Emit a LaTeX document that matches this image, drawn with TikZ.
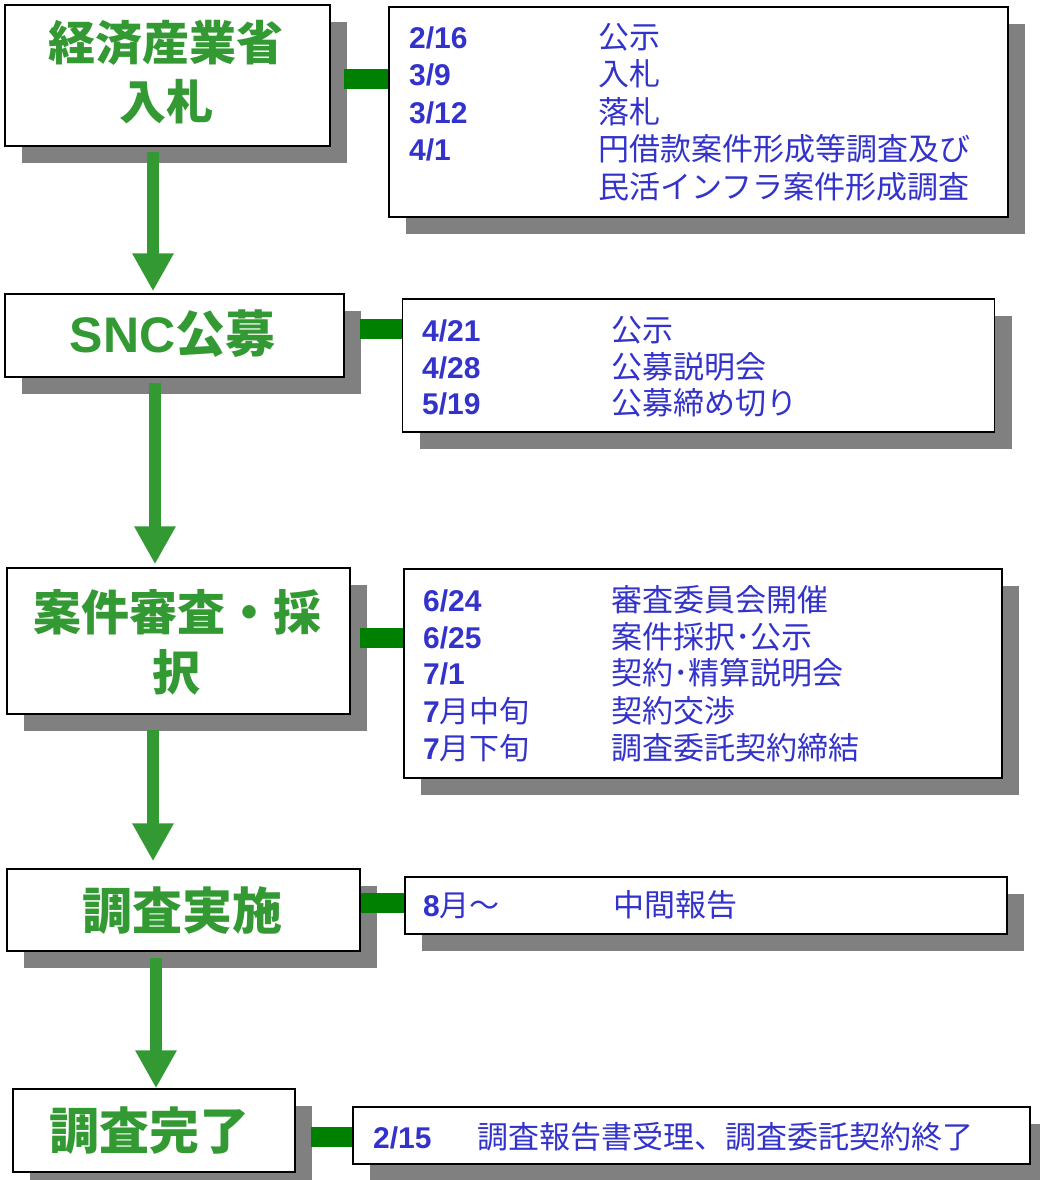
\documentclass[tikz,border=0pt]{standalone}
\usepackage{fontspec}
\setmainfont{Liberation Sans}
\newfontfamily\cjk{Noto Sans CJK JP}
\usetikzlibrary{arrows.meta,shadows,calc}
\definecolor{shadowgray}{RGB}{128,128,128}
\definecolor{conngreen}{RGB}{0,128,0}
\definecolor{flowgreen}{RGB}{51,153,51}
\definecolor{txtblue}{RGB}{51,51,204}
\begin{document}
\begin{tikzpicture}[x=1pt,y=-1pt,
  box/.style={draw=black, line width=1.5pt, fill=white, inner sep=0pt,
    drop shadow={shadow xshift=17pt, shadow yshift=-17pt, fill=shadowgray, opacity=1}},
  conn/.style={draw=conngreen, line width=20pt},
  flow/.style={draw=flowgreen, line width=12.5pt, -{Triangle[width=39pt,length=38pt]}},
  title/.style={text=flowgreen, inner sep=0pt, anchor=base},
  dt/.style={text=txtblue, inner sep=0pt, anchor=base west, font=\fontsize{30}{36}\selectfont\bfseries},
  ev/.style={text=txtblue, inner sep=0pt, anchor=base west, font=\fontsize{31}{37}\selectfont\cjk},
]
\fill[white] (0,0) rectangle (1039,1180);
\useasboundingbox (0,0) rectangle (1039,1180);

% left boxes
\node[box, minimum width=325pt, minimum height=141pt] (l1) at (167.5,75.5) {};
\node[box, minimum width=339pt, minimum height=83pt]  (l2) at (174.5,335.5) {};
\node[box, minimum width=343pt, minimum height=146pt] (l3) at (178.5,641) {};
\node[box, minimum width=353pt, minimum height=82pt]  (l4) at (183.5,910) {};
\node[box, minimum width=282pt, minimum height=83pt]  (l5) at (154,1130.5) {};

% right boxes
\node[box, minimum width=619pt, minimum height=210pt] (r1) at (698.5,112) {};
\node[box, minimum width=592pt, minimum height=133pt] (r2) at (698.5,365.5) {};
\node[box, minimum width=598pt, minimum height=209pt] (r3) at (703,673.5) {};
\node[box, minimum width=602pt, minimum height=57pt]  (r4) at (706,905.5) {};
\node[box, minimum width=677pt, minimum height=57pt]  (r5) at (691.5,1135.5) {};

% connectors
\path ($(l1.east)+(13,3.5)$) coordinate (c1s);
\path ($(l2.east)+(15,-6.5)$) coordinate (c2s);
\path ($(l3.east)+(9,-3.5)$) coordinate (c3s);
\path ($(l4.east)+(0,-7)$) coordinate (c4s);
\path ($(l5.east)+(15,6)$) coordinate (c5s);
\draw[conn] (c1s) -- (c1s -| r1.west);
\draw[conn] (c2s) -- (c2s -| r2.west);
\draw[conn] (c3s) -- (c3s -| r3.west);
\draw[conn] (c4s) -- (c4s -| r4.west);
\draw[conn] (c5s) -- (c5s -| r5.west);

% flow arrows
\path ($(l1.south)+(-14.5,5)$) coordinate (a1s);
\path ($(l2.south)+(-19.5,5)$) coordinate (a2s);
\path ($(l3.south)+(-25.5,15)$) coordinate (a3s);
\path ($(l4.south)+(-27.5,6)$) coordinate (a4s);
\draw[flow] (a1s) -- ($(a1s |- l2.north)+(0,-2)$);
\draw[flow] (a2s) -- ($(a2s |- l3.north)+(0,-3)$);
\draw[flow] (a3s) -- ($(a3s |- l4.north)+(0,-7)$);
\draw[flow] (a4s) -- (a4s |- l5.north);

% titles
\node[title, font=\fontsize{47}{56}\selectfont\cjk\bfseries] (t1a) at (166,61) {経済産業省};
\node[title, font=\fontsize{47}{56}\selectfont\cjk\bfseries] (t1b) at (166,120) {入札};
\node[title, font=\fontsize{50}{60}\selectfont\bfseries] (t2) at (172.5,352) {SNC{\cjk 公募}};
\node[title, font=\fontsize{48}{58}\selectfont\cjk\bfseries] (t3a) at (177,630) {案件審査・採};
\node[title, font=\fontsize{48}{58}\selectfont\cjk\bfseries] (t3b) at (176,690) {択};
\node[title, font=\fontsize{50}{60}\selectfont\cjk\bfseries] (t4) at (182,929) {調査実施};
\node[title, font=\fontsize{50}{60}\selectfont\cjk\bfseries] (t5) at (149.5,1149) {調査完了};

% box 1 texts
\node[dt] (d11) at (409,48.3) {2/16};
\node[dt] (d12) at (409,85.8) {3/9};
\node[dt] (d13) at (409,123.3) {3/12};
\node[dt] (d14) at (409,160.8) {4/1};
\node[ev] (e11) at (598,48.3) {公示};
\node[ev] (e12) at (598,85.8) {入札};
\node[ev] (e13) at (598,123.3) {落札};
\node[ev] (e14) at (598,160.8) {円借款案件形成等調査及び};
\node[ev] (e15) at (598,198.3) {民活インフラ案件形成調査};

% box 2 texts
\node[dt] (d21) at (422,341.3) {4/21};
\node[dt] (d22) at (422,378.3) {4/28};
\node[dt] (d23) at (422,414.3) {5/19};
\node[ev] (e21) at (611,341.3) {公示};
\node[ev] (e22) at (611,378.3) {公募説明会};
\node[ev] (e23) at (611,414.3) {公募締め切り};

% box 3 texts
\node[dt] (d31) at (423,611.3) {6/24};
\node[dt] (d32) at (423,648.3) {6/25};
\node[dt] (d33) at (423,684.3) {7/1};
\node[dt] (d34) at (423,722.3) {7{\cjk\mdseries 月中旬}};
\node[dt] (d35) at (423,759.3) {7{\cjk\mdseries 月下旬}};
\node[ev] (e31) at (611,611.3) {審査委員会開催};
\node[ev] (e32) at (611,648.3) {案件採択･公示};
\node[ev] (e33) at (611,684.3) {契約･精算説明会};
\node[ev] (e34) at (611,722.3) {契約交渉};
\node[ev] (e35) at (611,759.3) {調査委託契約締結};

% box 4 texts
\node[dt] (d41) at (423,916.3) {8{\cjk\mdseries 月～}};
\node[ev] (e41) at (613,916.3) {中間報告};

% box 5 texts
\node[dt] (d51) at (373,1148.3) {2/15};
\node[ev] (e51) at (477,1148.3) {調査報告書受理、調査委託契約終了};
\end{tikzpicture}
\end{document}
